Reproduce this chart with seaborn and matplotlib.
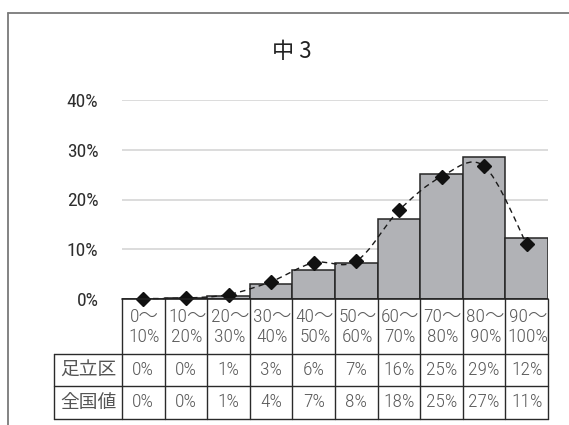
import matplotlib
matplotlib.use('Agg')
import matplotlib.pyplot as plt
import matplotlib.transforms as mtransforms
from matplotlib.path import Path
from matplotlib.patches import PathPatch
from matplotlib.lines import Line2D
from matplotlib.ticker import FuncFormatter
import seaborn as sns

# chart data (percent)
categories = ['0～\n10%', '10～\n20%', '20～\n30%', '30～\n40%', '40～\n50%',
              '50～\n60%', '60～\n70%', '70～\n80%', '80～\n90%', '90～\n100%']
adachi = [0.1, 0.2, 0.7, 3.0, 5.9, 7.3, 16.1, 25.2, 28.6, 12.2]
national = [0.1, 0.2, 0.9, 3.5, 7.3, 7.6, 17.8, 24.6, 26.7, 11.0]
row_names = ['足立区', '全国値']
adachi_labels = ['0%', '0%', '1%', '3%', '6%', '7%', '16%', '25%', '29%', '12%']
national_labels = ['0%', '0%', '1%', '4%', '7%', '8%', '18%', '25%', '27%', '11%']
y_ticks = [0, 10, 20, 30, 40]
title = '中 3'

sns.set_theme(style='white')
num_font = ['Roboto Condensed', 'Noto Sans CJK JP', 'DejaVu Sans']
jp_font = ['Noto Sans CJK JP', 'DejaVu Sans']
plt.rcParams['font.family'] = num_font

fig = plt.figure(figsize=(5.69, 4.25), dpi=100)
ax = fig.add_axes([122 / 569, 1 - 299 / 425, 426 / 569, 199 / 425])

# bars for 足立区
sns.barplot(x=list(range(len(categories))), y=adachi, ax=ax, width=1.0,
            color='#b1b2b6', edgecolor='#262626', linewidth=1.1,
            saturation=1, zorder=2)

# smoothed dashed line for 全国値 (Bezier through the points)
xs = list(range(len(national)))
pts = list(zip(xs, national))
verts = [pts[0]]
codes = [Path.MOVETO]
for i in range(len(pts) - 1):
    p0 = pts[i - 1] if i > 0 else pts[i]
    p1 = pts[i]
    p2 = pts[i + 1]
    p3 = pts[i + 2] if i + 2 < len(pts) else pts[i + 1]
    c1 = (p1[0] + (p2[0] - p0[0]) / 6, p1[1] + (p2[1] - p0[1]) / 6)
    c2 = (p2[0] - (p3[0] - p1[0]) / 6, p2[1] - (p3[1] - p1[1]) / 6)
    verts += [c1, c2, p2]
    codes += [Path.CURVE4] * 3
ax.add_patch(PathPatch(Path(verts, codes), fill=False, edgecolor='#1a1a1a',
                       linewidth=1.0, linestyle=(0, (4, 3)), zorder=3,
                       clip_on=False))
ax.plot(xs, national, linestyle='none', marker='D', markersize=7.5,
        color='#111111', zorder=4, clip_on=False)

ax.set_xlim(-0.5, len(categories) - 0.5)
ax.set_ylim(0, 40)
ax.set_yticks(y_ticks)
ax.yaxis.set_major_formatter(FuncFormatter(lambda v, p: f'{v:.0f}%'))
ax.tick_params(axis='y', length=0, pad=17, labelsize=14, labelcolor='#2e2e2e')
ax.set_xticks([])
ax.set_xlabel('')
ax.grid(axis='y', color='#d9d9d9', linewidth=1.3, zorder=0)
ax.set_axisbelow(True)
for s in ax.spines.values():
    s.set_visible(False)
ax.axhline(0, color='#222222', linewidth=1.2, zorder=5, clip_on=False)

# data table under the chart
blend = mtransforms.blended_transform_factory(ax.transData, ax.transAxes)
y_row1 = -0.2764
y_row2 = -0.4372
y_bot = -0.603
x_head = -0.1596
line_kw = dict(color='#2a2a2a', linewidth=1.0, clip_on=False)
n = len(categories)
for i in range(n + 1):
    ax.plot([i - 0.5, i - 0.5], [0, y_bot], transform=blend, **line_kw)
for yy in (y_row1, y_row2, y_bot):
    ax.plot([x_head, 1], [yy, yy], transform=ax.transAxes, **line_kw)
ax.plot([x_head, x_head], [y_row1, y_bot], transform=ax.transAxes, **line_kw)

txt_kw = dict(fontsize=14, color='#5a5a5a', family=num_font, weight='light')
for i, lab in enumerate(categories):
    ax.text(i + 0.03, -0.1407, lab, transform=blend, ha='center', va='center',
            linespacing=1.2, **txt_kw)
    ax.text(i, (y_row1 + y_row2) / 2, adachi_labels[i], transform=blend,
            ha='center', va='center', **txt_kw)
    ax.text(i, (y_row2 + y_bot) / 2, national_labels[i], transform=blend,
            ha='center', va='center', **txt_kw)
for name, yy in zip(row_names, [(y_row1 + y_row2) / 2, (y_row2 + y_bot) / 2]):
    ax.text(x_head / 2, yy, name, transform=ax.transAxes, ha='center', va='center',
            fontsize=13.5, color='#555555', family=jp_font)

# title and outer frame
fig.text(292 / 569, 1 - 51 / 425, title, ha='center', va='center',
         fontsize=16, color='#222222', family=jp_font)
fig.add_artist(Line2D([7.5 / 569, 7.5 / 569], [0, 1 - 12.5 / 425],
                      transform=fig.transFigure, color='#7a7a7a', linewidth=1.3))
fig.add_artist(Line2D([7.5 / 569, 1], [1 - 12.5 / 425, 1 - 12.5 / 425],
                      transform=fig.transFigure, color='#7a7a7a', linewidth=1.3))

fig.savefig('out.png', dpi=100)
